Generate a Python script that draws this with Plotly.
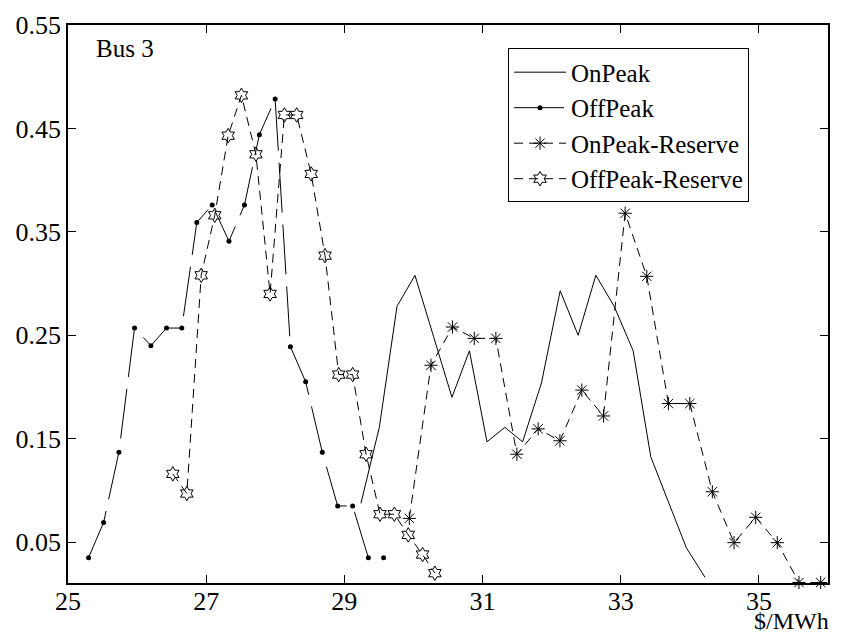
import plotly.graph_objects as go

# Price distributions at Bus 3 ($/MWh vs. relative frequency)
onpeak_x = [29.24, 29.506, 29.762, 30.022, 30.29, 30.557, 30.81, 31.064, 31.324, 31.58,
            31.853, 32.124, 32.384, 32.64, 32.905, 33.18, 33.435, 33.69, 33.95, 34.22]
onpeak_y = [0.0875, 0.161, 0.278, 0.308, 0.249, 0.190, 0.235, 0.147, 0.161, 0.147,
            0.204, 0.293, 0.250, 0.308, 0.278, 0.235, 0.1325, 0.088, 0.0445, 0.016]

offpeak_x = [25.298, 25.515, 25.737, 25.963, 26.20, 26.426, 26.647, 26.864, 27.087, 27.33,
             27.554, 27.77, 27.998, 28.219, 28.44, 28.68, 28.903, 29.12, 29.347, 29.568]
offpeak_y = [0.035, 0.069, 0.137, 0.257, 0.240, 0.257, 0.257, 0.359, 0.376, 0.341,
             0.376, 0.444, 0.4785, 0.239, 0.205, 0.137, 0.085, 0.085, 0.035, 0.035]

onres_x = [29.94, 30.254, 30.566, 30.88, 31.193, 31.497, 31.805, 32.12, 32.437, 32.75,
           33.064, 33.377, 33.69, 34.0, 34.326, 34.64, 34.954, 35.266, 35.58, 35.894]
onres_y = [0.073, 0.221, 0.258, 0.247, 0.247, 0.135, 0.1595, 0.148, 0.197, 0.172,
           0.368, 0.307, 0.184, 0.184, 0.0987, 0.0495, 0.074, 0.0495, 0.011, 0.011]

offres_x = [26.517, 26.72, 26.928, 27.124, 27.318, 27.51, 27.72, 27.925, 28.132, 28.31,
            28.52, 28.72, 28.918, 29.12, 29.314, 29.516, 29.723, 29.925, 30.132, 30.31]
offres_y = [0.116, 0.097, 0.308, 0.366, 0.443, 0.482, 0.425, 0.290, 0.463, 0.463,
            0.406, 0.327, 0.212, 0.212, 0.135, 0.077, 0.077, 0.057, 0.038, 0.020]

x_ticks = [25, 27, 29, 31, 33, 35]
y_ticks = [0.05, 0.15, 0.25, 0.35, 0.45, 0.55]

FONT = "Liberation Serif"

fig = go.Figure()
fig.add_trace(go.Scatter(
    x=onpeak_x, y=onpeak_y, name="OnPeak", mode="lines",
    line=dict(color="black", width=1), cliponaxis=False))
fig.add_trace(go.Scatter(
    x=offpeak_x, y=offpeak_y, name="OffPeak", mode="lines+markers",
    line=dict(color="black", width=1, dash="50px,12px"),
    marker=dict(symbol="circle", size=5, color="black"), cliponaxis=False))
fig.add_trace(go.Scatter(
    x=onres_x, y=onres_y, name="OnPeak-Reserve", mode="lines+markers",
    line=dict(color="black", width=1, dash="9px,6px"),
    marker=dict(symbol="asterisk-open", size=11, color="black",
                line=dict(color="black", width=1)), cliponaxis=False))
fig.add_trace(go.Scatter(
    x=offres_x, y=offres_y, name="OffPeak-Reserve", mode="lines+markers",
    line=dict(color="black", width=1, dash="9px,6px"),
    marker=dict(symbol="hexagram-open", size=11, color="black",
                line=dict(color="black", width=1)), cliponaxis=False))

axis_common = dict(
    showgrid=False, zeroline=False, showline=True, linecolor="black", linewidth=1.5,
    mirror="ticks", ticks="inside", ticklen=8, tickwidth=1, tickcolor="black",
    tickfont=dict(family=FONT, size=26, color="black"),
)
fig.update_xaxes(range=[25, 36], tickvals=x_ticks, ticktext=[str(v) for v in x_ticks],
                 ticklabelstandoff=-6, **axis_common)
fig.update_yaxes(range=[0.0105, 0.55], tickvals=y_ticks,
                 ticktext=[f"{v:.2f}" for v in y_ticks], **axis_common)

fig.add_annotation(text="Bus 3", xref="paper", yref="paper", x=0.034, y=0.958,
                   xanchor="left", yanchor="middle", showarrow=False,
                   font=dict(family=FONT, size=25, color="black"))
fig.add_annotation(text="$/MWh", xref="paper", yref="paper", x=1.004, y=-0.0945,
                   xanchor="right", yanchor="bottom", showarrow=False,
                   font=dict(family=FONT, size=24, color="black"))

fig.update_layout(
    width=841, height=634,
    margin=dict(l=68, r=11, t=17, b=51),
    paper_bgcolor="white", plot_bgcolor="white",
    font=dict(family=FONT, color="black"),
    legend=dict(x=0.579, y=0.958, xanchor="left", yanchor="top",
                bordercolor="black", borderwidth=1, bgcolor="white",
                font=dict(family=FONT, size=25, color="black"),
                tracegroupgap=0, itemwidth=52),
    showlegend=True,
)

fig.write_html("out.html")
